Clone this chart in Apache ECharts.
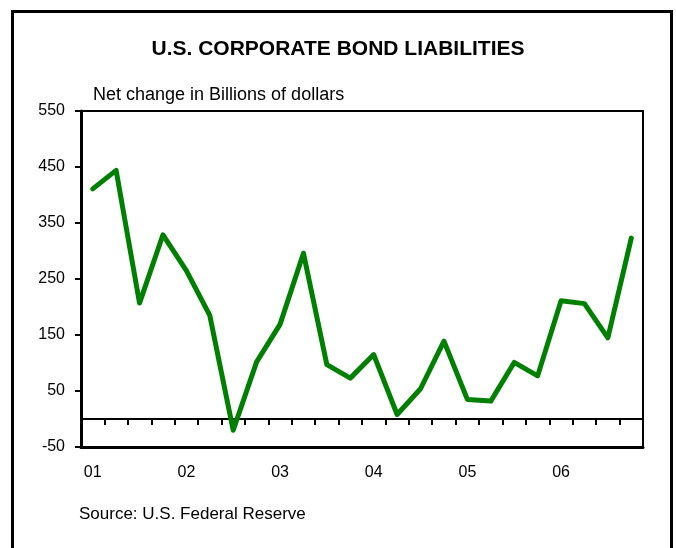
<!DOCTYPE html>
<html>
<head>
<meta charset="utf-8">
<script src="https://cdn.jsdelivr.net/npm/echarts@6/dist/echarts.min.js"></script>
<style>
  html, body { margin: 0; padding: 0; background: #fff; }
  #chart { width: 676px; height: 548px; }
</style>
</head>
<body>
<div id="chart"></div>
<script>
// Quarterly periods, 2001 Q1 through 2006 Q4
const quarters = [
  '01 Q1', '01 Q2', '01 Q3', '01 Q4',
  '02 Q1', '02 Q2', '02 Q3', '02 Q4',
  '03 Q1', '03 Q2', '03 Q3', '03 Q4',
  '04 Q1', '04 Q2', '04 Q3', '04 Q4',
  '05 Q1', '05 Q2', '05 Q3', '05 Q4',
  '06 Q1', '06 Q2', '06 Q3', '06 Q4'
];
// Year labels shown under the first quarter of each year
const yearLabels = ['01', '02', '03', '04', '05', '06'];
// Net change in corporate bond liabilities, billions of dollars
const netChange = [
  411, 444, 207, 329, 265, 185, -20, 102,
  169, 296, 97, 73, 115, 8, 54, 139,
  35, 32, 101, 77, 211, 206, 145, 323
];
// Value axis range and step
const yMin = -50, yMax = 550, yStep = 100;

const font = 'Liberation Sans, Arial, sans-serif';
const chart = echarts.init(document.getElementById('chart'), null, { renderer: 'canvas' });

const yearOf = (q) => q.slice(0, 2);

chart.setOption({
  animation: false,
  backgroundColor: '#fff',
  title: {
    text: 'U.S. CORPORATE BOND LIABILITIES',
    left: 'center',
    top: 34,
    textStyle: { fontFamily: font, fontSize: 21, fontWeight: 'bold', color: '#000' }
  },
  graphic: [
    {
      type: 'rect',
      shape: { x: 12.5, y: 11.5, width: 659, height: 560 },
      style: { fill: null, stroke: '#000', lineWidth: 3 },
      silent: true
    },
    {
      type: 'text',
      left: 93,
      top: 86,
      style: { text: 'Net change in Billions of dollars', font: '18px ' + font, fill: '#000' }
    },
    {
      type: 'text',
      left: 79,
      top: 506,
      style: { text: 'Source: U.S. Federal Reserve', font: '17px ' + font, fill: '#000' }
    }
  ],
  grid: {
    left: 81, right: 33, top: 111, bottom: 101,
    show: true, borderColor: '#000', borderWidth: 2, backgroundColor: 'transparent'
  },
  xAxis: [
    {
      // bottom edge with year labels
      type: 'category',
      data: quarters,
      boundaryGap: true,
      position: 'bottom',
      axisLine: { onZero: false, lineStyle: { color: '#000', width: 3 } },
      axisTick: { show: false },
      axisLabel: {
        interval: 3,
        margin: 18,
        color: '#000',
        fontFamily: font,
        fontSize: 16,
        formatter: (v) => yearLabels.includes(yearOf(v)) ? yearOf(v) : ''
      },
      splitLine: { show: false }
    },
    {
      // zero line with quarter ticks
      type: 'category',
      data: quarters,
      boundaryGap: true,
      position: 'bottom',
      axisLine: { onZero: true, lineStyle: { color: '#000', width: 2 } },
      axisTick: { show: true, interval: 0, length: 6, lineStyle: { color: '#000', width: 2 } },
      axisLabel: { show: false },
      splitLine: { show: false }
    }
  ],
  yAxis: {
    type: 'value',
    min: yMin,
    max: yMax,
    interval: yStep,
    axisLine: { show: true, lineStyle: { color: '#000', width: 3 } },
    axisTick: { show: true, length: 6, lineStyle: { color: '#000', width: 2 } },
    axisLabel: { margin: 16, color: '#000', fontFamily: font, fontSize: 16 },
    splitLine: { show: false }
  },
  series: [
    {
      type: 'line',
      data: netChange,
      xAxisIndex: 0,
      showSymbol: false,
      symbol: 'none',
      lineStyle: { color: '#008000', width: 5, cap: 'round', join: 'round' },
      z: 1
    }
  ]
});
</script>
</body>
</html>
